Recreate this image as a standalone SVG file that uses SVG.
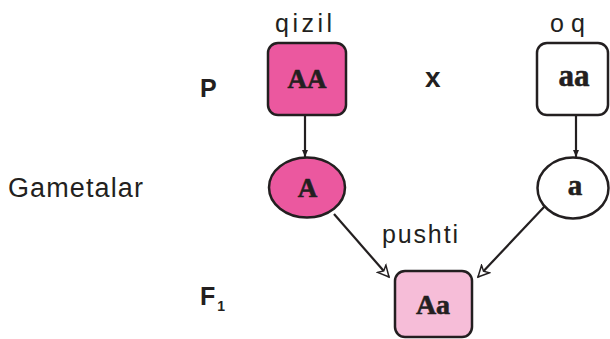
<svg xmlns="http://www.w3.org/2000/svg" width="610" height="339" viewBox="0 0 610 339">
<defs>
<marker id="tip" markerWidth="8" markerHeight="8" refX="7" refY="4" orient="auto" markerUnits="userSpaceOnUse">
<path d="M0,1 L7,4 L0,7 Z" fill="#231F20"/>
</marker>
<marker id="vee" markerWidth="14" markerHeight="14" refX="12" refY="7" orient="auto" markerUnits="userSpaceOnUse">
<path d="M1,1.5 L12,7 L1,12.5 L4,7 Z" fill="#ffffff" stroke="#231F20" stroke-width="1.5" stroke-linejoin="miter"/>
</marker>
<style>
.lbl{font-family:"Liberation Sans",Arial,sans-serif;fill:#231F20}
.gen{font-family:"Liberation Serif","Times New Roman",serif;font-weight:bold;fill:#231F20;stroke:#231F20;stroke-width:0.6;text-anchor:middle}
.shape{stroke:#231F20;stroke-width:2.5}
.line{stroke:#231F20;stroke-width:2.2;fill:none}
</style>
</defs>
<rect width="610" height="339" fill="#ffffff"/>
<g id="labels">
<text class="lbl" x="200" y="97" font-size="25" font-weight="bold">P</text>
<text class="lbl" x="425" y="87" font-size="28" font-weight="bold">x</text>
<text class="lbl" x="8" y="197" font-size="27" textLength="135" lengthAdjust="spacing">Gametalar</text>
<text class="lbl" x="200" y="305" font-size="25" font-weight="bold">F<tspan font-size="14" dx="2" dy="6">1</tspan></text>
<text class="lbl" x="275" y="32" font-size="25" textLength="57" lengthAdjust="spacing">qizil</text>
<text class="lbl" x="550" y="32" font-size="25" textLength="35" lengthAdjust="spacing">o q</text>
<text class="lbl" x="382" y="243" font-size="25" textLength="76" lengthAdjust="spacing">pushti</text>
</g>
<g id="connectors">
<line class="line" x1="305" y1="116" x2="305" y2="157" marker-end="url(#tip)"/>
<line class="line" x1="576" y1="116" x2="576" y2="157" marker-end="url(#tip)"/>
<line class="line" x1="334" y1="214" x2="389" y2="277" marker-end="url(#vee)"/>
<line class="line" x1="545" y1="206" x2="478" y2="277" marker-end="url(#vee)"/>
</g>
<g id="node-AA">
<rect class="shape" x="268" y="43" width="78" height="72" rx="10" fill="#EB589F"/>
<text class="gen" x="307" y="88" font-size="27">AA</text>
</g>
<g id="node-aa">
<rect class="shape" x="537" y="43" width="71" height="72" rx="10" fill="#ffffff"/>
<text class="gen" x="574" y="86" font-size="31">aa</text>
</g>
<g id="node-A">
<ellipse class="shape" cx="307" cy="187.5" rx="38" ry="30" fill="#EB589F"/>
<text class="gen" x="307.5" y="197" font-size="27">A</text>
</g>
<g id="node-a">
<ellipse class="shape" cx="573" cy="188" rx="35.5" ry="30.5" fill="#ffffff"/>
<text class="gen" x="575" y="195" font-size="29">a</text>
</g>
<g id="node-Aa">
<rect class="shape" x="395" y="271" width="77" height="66" rx="10" fill="#F6BDD8"/>
<text class="gen" x="433" y="314" font-size="28">Aa</text>
</g>
</svg>
